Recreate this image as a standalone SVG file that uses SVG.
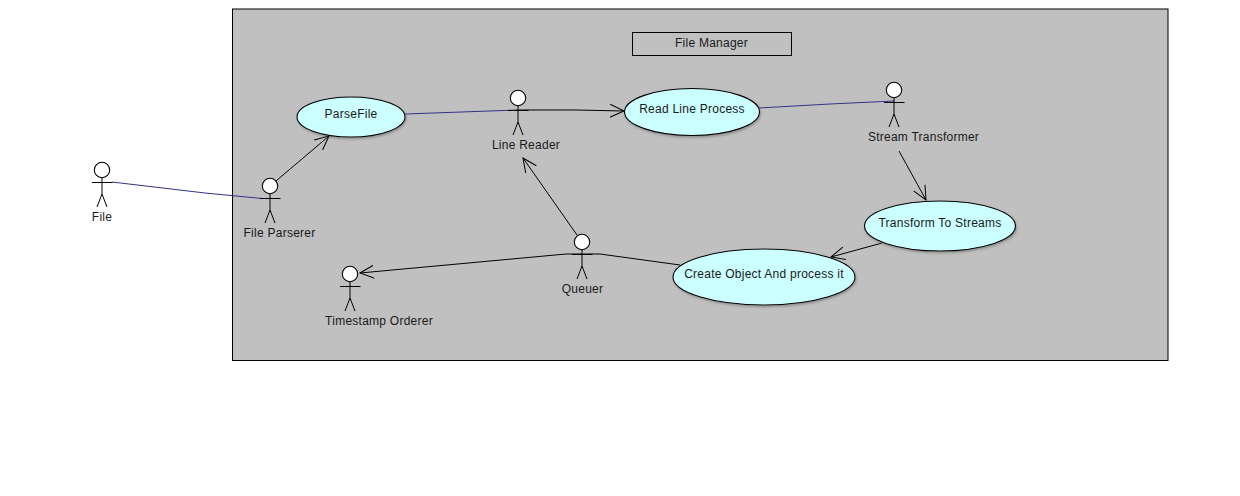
<svg xmlns="http://www.w3.org/2000/svg" width="1240" height="496" viewBox="0 0 1240 496">
<style>
text{font-family:"Liberation Sans",Arial,sans-serif;font-size:12px;letter-spacing:.25px;fill:#1a1a1a;text-anchor:middle}
.uc{fill:#ccffff;stroke:#000;stroke-width:1.1;filter:url(#sh)}
.head{fill:#fff;stroke:#000;stroke-width:1.1}
.stick{fill:none;stroke:#000;stroke-width:1}
.blue{fill:none;stroke:#333388;stroke-width:1}
.blk{fill:none;stroke:#000;stroke-width:1}
</style>
<defs>
<filter id="sh" x="-10%" y="-10%" width="125%" height="130%"><feDropShadow dx="1" dy="1.5" stdDeviation="1" flood-color="#555" flood-opacity="0.5"/></filter>
<marker id="open" markerUnits="userSpaceOnUse" markerWidth="16" markerHeight="16" refX="14" refY="8" orient="auto" viewBox="0 0 16 16"><path d="M0,1.500 L14,8 L0,14.500" fill="none" stroke="#000" stroke-width="1"/></marker>
<g id="actor" class="stick"><path d="M-10,12.500 H10.500 M0,8 V24 M0,24 L-5,37 M0,24 L5,37"/><circle class="head" cx="0" cy="0" r="7.700"/></g>
</defs>
<rect width="1240" height="496" fill="#fff"/>
<g id="frame"><rect x="232.500" y="9" width="935.500" height="351.500" fill="#c0c0c0" stroke="#000" stroke-width="1"/></g>
<g id="title"><rect x="632.500" y="32.500" width="159" height="23" fill="none" stroke="#000" stroke-width="1"/><text x="711.500" y="47">File Manager</text></g>
<g id="connectors">
<path class="blue" d="M112,182 L205,193 L262,198.500 H270"/>
<path class="blue" d="M405,114 L518,110"/>
<path class="blue" d="M759,108 L830,104 L894,101"/>
<path class="blk" marker-end="url(#open)" d="M276,181 L329,136"/>
<path class="blk" marker-end="url(#open)" d="M518,110 L576,110 L624,111"/>
<path class="blk" marker-end="url(#open)" d="M899,151 L926,200"/>
<path class="blk" marker-end="url(#open)" d="M882,243 L831,257"/>
<path class="blk" marker-end="url(#open)" d="M680,265 L600,254 H566 L360,273"/>
<path class="blk" marker-end="url(#open)" d="M577,235 L523,158"/>
</g>
<g id="file"><use href="#actor" x="102" y="170"/><text x="102" y="221">File</text></g>
<g id="file-parserer"><use href="#actor" x="270" y="186"/><text x="279.500" y="237">File Parserer</text></g>
<g id="line-reader"><use href="#actor" x="518" y="98"/><text x="526" y="149">Line Reader</text></g>
<g id="stream-transformer"><use href="#actor" x="894" y="90"/><text x="923.500" y="141">Stream Transformer</text></g>
<g id="queuer"><use href="#actor" x="582" y="242"/><text x="582.500" y="293">Queuer</text></g>
<g id="timestamp-orderer"><use href="#actor" x="350" y="274"/><text x="379" y="325">Timestamp Orderer</text></g>
<g id="parsefile"><ellipse class="uc" cx="351" cy="117" rx="54" ry="20"/><text x="351" y="118">ParseFile</text></g>
<g id="read-line-process"><ellipse class="uc" cx="692" cy="112" rx="67.500" ry="23.500"/><text x="692" y="113">Read Line Process</text></g>
<g id="transform-to-streams"><ellipse class="uc" cx="940" cy="226" rx="75.500" ry="25"/><text x="940" y="227">Transform To Streams</text></g>
<g id="create-object"><ellipse class="uc" cx="764" cy="277" rx="91" ry="28"/><text x="764" y="278">Create Object And process it</text></g>
</svg>
